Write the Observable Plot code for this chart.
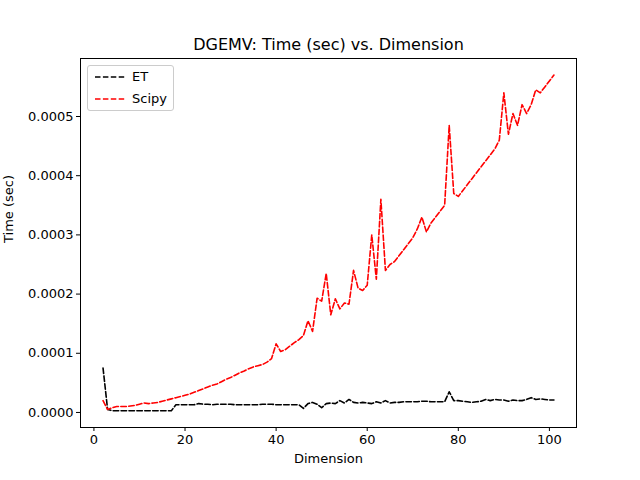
<!DOCTYPE html>
<html><head><meta charset="utf-8">
<script src="https://cdn.jsdelivr.net/npm/d3@7"></script>
<script src="https://cdn.jsdelivr.net/npm/@observablehq/plot@0.6"></script>
<style>body{margin:0;background:#fff;font-family:"DejaVu Sans",sans-serif}#wrap{position:relative;width:640px;height:480px}
#legend{position:absolute;left:87px;top:65px;width:85px;height:44px;border:1px solid #ccc;border-radius:3px;background:#fff;font-size:13px}
#legend div{position:relative;height:22px;line-height:21px;padding-left:44px}
#legend svg{position:absolute;left:7px;top:6px}</style></head>
<body><div id="wrap"></div>
<script>
const dims = d3.range(2, 102);
const et = [7.5,0.5,0.3,0.3,0.3,0.3,0.3,0.3,0.3,0.3,0.3,0.3,0.3,0.3,0.3,0.3,1.3,1.3,1.3,1.3,1.3,1.5,1.4,1.4,1.3,1.4,1.4,1.4,1.4,1.3,1.3,1.3,1.3,1.3,1.3,1.4,1.4,1.4,1.3,1.3,1.3,1.3,1.3,1.3,0.7,1.5,1.7,1.4,0.8,1.5,1.6,1.5,2.0,1.6,2.2,1.7,1.6,1.7,1.6,1.5,1.8,1.6,2.0,1.6,1.7,1.7,1.8,1.8,1.8,1.8,1.9,1.9,1.8,1.8,1.8,1.8,3.5,2.0,2.0,1.9,1.8,1.7,1.8,1.9,2.2,2.0,2.2,2.1,2.1,1.9,2.1,2.0,2.0,2.2,2.5,2.2,2.3,2.2,2.1,2.1].slice(0,100);
const scipy = [2.0,0.5,0.8,1.0,1.0,1.0,1.1,1.2,1.4,1.6,1.5,1.6,1.7,1.9,2.1,2.3,2.5,2.7,2.9,3.1,3.4,3.7,4.0,4.3,4.6,4.8,5.2,5.6,5.9,6.3,6.7,7.0,7.4,7.7,7.9,8.1,8.5,9.1,11.6,10.3,10.6,11.2,11.8,12.3,13.0,15.5,13.7,19.3,18.8,23.5,16.5,19.2,17.5,18.5,18.3,24,21,20.6,21.5,30,22.5,36,24,25,25.5,26.5,27.5,28.5,29.5,31,33,30.5,32,33,34,35,48.5,37,36.5,37.5,38.5,39.5,40.5,41.5,42.5,43.5,44.5,46,54,47,50.5,48.5,52,50.5,52,54.5,54,55,56,57];
const xTicks = [0,20,40,60,80,100];
const yTicks = [0,0.0001,0.0002,0.0003,0.0004,0.0005];
const rows = dims.map((d,i)=>({d, et: et[i]*1e-5, sc: scipy[i]*1e-5}));
const chart = Plot.plot({
  width: 640, height: 480, marginLeft: 80, marginRight: 64, marginTop: 58, marginBottom: 53,
  style: {fontFamily: "DejaVu Sans", fontSize: "13px", background: "#fff"},
  x: {domain: [-2.95, 105.95]},
  y: {domain: [-0.0000254, 0.000598]},
  marks: [
    Plot.frame({stroke: "#000", strokeWidth: 1}),
    Plot.axisX({ticks: xTicks, tickSize: 4, tickPadding: 3, label: null, fontSize: 13}),
    Plot.axisY({ticks: yTicks, tickSize: 4, tickPadding: 3, tickFormat: d3.format(".4f"), label: null, fontSize: 13}),
    Plot.line(rows, {x: "d", y: "et", stroke: "#000", strokeWidth: 1.6, strokeDasharray: "5.5,2.4"}),
    Plot.line(rows, {x: "d", y: "sc", stroke: "red", strokeWidth: 1.6, strokeDasharray: "5.5,2.4"}),
    Plot.text(["DGEMV: Time (sec) vs. Dimension"], {frameAnchor: "top", dy: -9, fontSize: 16, lineAnchor: "bottom"}),
    Plot.text(["Dimension"], {frameAnchor: "bottom", dy: 35, fontSize: 13}),
    Plot.text(["Time (sec)"], {frameAnchor: "left", dx: -72, rotate: -90, fontSize: 13})
  ]
});
const wrap = document.getElementById("wrap");
wrap.appendChild(chart);
const leg = document.createElement("div"); leg.id = "legend";
leg.innerHTML = [["ET","#000"],["Scipy","red"]].map(([n,c])=>`<div><svg width="30" height="10"><line x1="0" y1="5" x2="30" y2="5" stroke="${c}" stroke-width="1.6" stroke-dasharray="5.5,2.4"/></svg>${n}</div>`).join("");
wrap.appendChild(leg);
</script></body></html>
